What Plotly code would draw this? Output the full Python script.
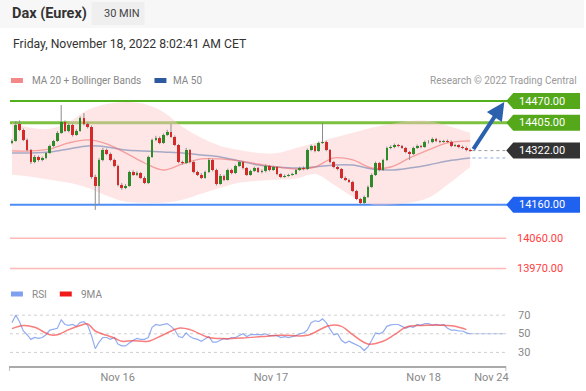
import numpy as np
import plotly.graph_objects as go

W, H = 586, 391
FONT = "Roboto, Arial, sans-serif"

# ---------------- data ----------------
open_ = [14345,14351,14400,14384,14354,14324,14288,14303,14294,14300,
         14315,14336,14351,14375,14407,14381,14398,14369,14381,14419,
         14401,14393,14244,14217,14294,14324,14312,14294,14276,14220,
         14211,14217,14258,14250,14255,14241,14226,14303,14354,14360,
         14345,14369,14378,14363,14339,14288,14285,14324,14288,14258,
         14250,14241,14258,14294,14264,14223,14247,14235,14264,14255,
         14276,14288,14270,14250,14261,14270,14258,14260,14276,14264,
         14273,14252,14244,14247,14250,14252,14264,14270,14267,14324,
         14336,14321,14345,14348,14324,14288,14273,14267,14241,14235,
         14229,14202,14178,14166,14184,14214,14250,14285,14264,14294,
         14330,14333,14339,14336,14330,14318,14312,14330,14336,14333,
         14348,14347,14357,14351,14348,14350,14349,14336,14338,14333,
         14330,14324]
close = [14351,14398,14384,14354,14324,14288,14303,14294,14300,14315,
         14336,14351,14375,14407,14381,14398,14369,14381,14419,14401,
         14393,14244,14217,14294,14324,14312,14294,14276,14220,14211,
         14217,14258,14250,14255,14241,14226,14303,14354,14360,14345,
         14369,14378,14363,14339,14288,14285,14324,14288,14258,14250,
         14241,14258,14294,14264,14223,14247,14235,14264,14255,14276,
         14288,14270,14250,14261,14270,14258,14260,14276,14264,14273,
         14252,14244,14247,14250,14252,14264,14270,14267,14324,14336,
         14321,14345,14348,14324,14288,14273,14267,14241,14235,14229,
         14202,14178,14166,14184,14214,14250,14285,14264,14294,14330,
         14333,14339,14336,14330,14318,14312,14330,14336,14333,14348,
         14347,14357,14351,14348,14350,14349,14336,14338,14333,14330,
         14324,14322]
high = [14356,14410,14412,14388,14358,14327,14309,14307,14304,14318,
        14340,14354,14380,14458,14412,14403,14402,14386,14424,14434,
        14406,14397,14250,14300,14330,14328,14316,14298,14280,14225,
        14222,14262,14263,14260,14258,14245,14307,14358,14366,14364,
        14373,14384,14401,14367,14342,14292,14330,14327,14292,14262,
        14255,14262,14300,14297,14268,14252,14250,14268,14268,14280,
        14292,14291,14273,14265,14274,14273,14266,14281,14279,14277,
        14276,14255,14251,14253,14256,14267,14274,14275,14328,14340,
        14339,14349,14404,14352,14327,14291,14276,14270,14245,14238,
        14232,14205,14181,14188,14218,14254,14289,14288,14298,14334,
        14338,14343,14342,14339,14333,14321,14334,14340,14339,14352,
        14353,14361,14360,14354,14354,14355,14352,14342,14341,14337,
        14334,14328]
low = [14341,14348,14380,14350,14320,14282,14284,14289,14290,14296,
       14312,14332,14348,14372,14377,14376,14364,14366,14378,14397,
       14388,14238,14145,14160,14290,14308,14290,14272,14215,14205,
       14207,14214,14246,14246,14237,14222,14222,14300,14350,14341,
       14342,14365,14360,14335,14284,14280,14282,14284,14254,14246,
       14237,14238,14255,14260,14218,14220,14231,14232,14251,14252,
       14273,14266,14246,14247,14258,14255,14254,14257,14260,14261,
       14248,14240,14241,14244,14247,14249,14261,14263,14264,14320,
       14317,14318,14342,14320,14284,14269,14263,14237,14231,14225,
       14198,14174,14160,14162,14180,14210,14246,14260,14261,14291,
       14326,14329,14332,14327,14314,14294,14309,14327,14329,14330,
       14343,14344,14347,14344,14345,14345,14332,14333,14329,14326,
       14320,14318]

ind_idx = [0,5,10,15,20,25,30,35,40,45,50,55,60,65,70,75,80,85,90,95,100,105,110,115,121]
ma20 = [14321,14321,14327,14345,14354,14342,14315,14285,14264,14282,14297,14297,14291,
        14282,14273,14267,14273,14300,14294,14270,14273,14300,14324,14345,14351]
ma50 = [14315,14315,14318,14327,14336,14333,14324,14321,14318,14315,14309,14303,14291,
        14279,14273,14270,14273,14279,14279,14267,14264,14270,14279,14291,14300]
bb_upper = [14404,14390,14387,14407,14443,14461,14467,14461,14437,14393,14360,14336,14324,
            14315,14315,14330,14345,14360,14375,14390,14401,14410,14410,14396,14375]
bb_lower = [14250,14244,14235,14226,14211,14187,14169,14166,14166,14175,14193,14211,14226,
            14232,14235,14238,14252,14220,14184,14160,14160,14166,14181,14220,14273]

rsi = [62,70,63,53,49,44,46,45,46,49,
       54,55,56,65,60,59,60,58,62,63,
       59,48,34,41,46,46,44,46,39,37,
       37,40,43,45,44,44,46,57,60,59,
       60,61,58,54,47,46,51,47,45,44,
       42,45,47,41,41,43,45,44,46,46,
       48,50,47,49,49,49,49,50,48,48,
       48,46,47,46,47,48,50,51,54,62,
       64,63,66,62,55,49,50,43,40,42,
       40,38,36,32,36,43,51,50,52,58,
       59.5,60,60,58,56,58,57,60,59,61,
       61,59,60,59,60,56,54,54,53,53,
       51,50]
rsi9_idx = [0,3,6,10,12,15,18,20,22,25,27,29,32,36,40,44,47,52,56,61,
            66,71,78,82,84,87,90,94,98,101,104,108,115,117,120]
rsi9 = [55.6,59,57,49,49,54.5,59,60.6,53,48.4,45.5,42,42.6,42,49,56,54.5,46,44.8,45.5,
        47,48.4,48.4,56,59,58,49,39,42,49,57,59,59,58,54.5]

levels = [14470, 14405, 14322, 14160, 14060, 13970]
level_kind = ["res", "res", "last", "sup", "sup2", "sup2"]
rsi_levels = [70, 50, 30]
tick_pos = [27.9, 68.4, 108.7, 126.6]
tick_text = ["Nov 16", "Nov 17", "Nov 18", "Nov 24"]

# ---------------- geometry helpers ----------------
X0_PX, STEP = 12, 3.8
def xi(px):
    return (px - X0_PX) / STEP
def fx(px):
    return px / W
def fy(py):
    return 1 - py / H

N = len(close)
xs = list(range(N))
o = np.array(open_, float); c = np.array(close, float)
body_base = np.minimum(o, c)
body_h = np.maximum(np.abs(c - o), 1.5)
body_col = ["#2f8a2a" if cc >= oo else "#d42a2a" for oo, cc in zip(o, c)]

main_range = [13920.8, 14508.8]
main_dom = [fy(285), fy(88)]
rsi_range = [15.4, 86.3]
rsi_dom = [fy(366), fy(300)]
xr_main = [xi(0), xi(W)]

fig = go.Figure()

fig.add_trace(go.Scatter(x=ind_idx, y=bb_upper, mode="lines", line=dict(width=0, shape="spline"),
                         hoverinfo="skip", showlegend=False, xaxis="x", yaxis="y"))
fig.add_trace(go.Scatter(x=ind_idx, y=bb_lower, mode="lines", line=dict(width=0, shape="spline"),
                         fill="tonexty", fillcolor="rgba(252,200,200,0.45)",
                         hoverinfo="skip", showlegend=False, xaxis="x", yaxis="y"))
fig.add_trace(go.Scatter(x=ind_idx, y=ma50, mode="lines",
                         line=dict(width=1.5, color="rgba(60,95,160,0.45)", shape="spline"),
                         showlegend=False, xaxis="x", yaxis="y"))
fig.add_trace(go.Scatter(x=ind_idx, y=ma20, mode="lines",
                         line=dict(width=1.3, color="rgba(240,110,110,0.6)", shape="spline"),
                         showlegend=False, xaxis="x", yaxis="y"))

fig.add_trace(go.Ohlc(x=xs, open=open_, high=high, low=low, close=close, tickwidth=0,
                      increasing=dict(line=dict(color="#8c8c8c", width=1)),
                      decreasing=dict(line=dict(color="#8c8c8c", width=1)),
                      showlegend=False, xaxis="x3", yaxis="y3"))
fig.add_trace(go.Bar(x=xs, y=body_h, base=body_base, width=0.72,
                     marker=dict(color=body_col, line=dict(width=0)),
                     showlegend=False, xaxis="x4", yaxis="y4"))

fig.add_trace(go.Scatter(x=xs, y=rsi, mode="lines", line=dict(color="rgba(110,145,235,0.75)", width=1.2),
                         showlegend=False, xaxis="x2", yaxis="y2"))
fig.add_trace(go.Scatter(x=rsi9_idx, y=rsi9, mode="lines",
                         line=dict(color="rgba(245,70,70,0.7)", width=1.5, shape="spline"),
                         showlegend=False, xaxis="x2", yaxis="y2"))

shapes = []
annos = []

shapes.append(dict(type="rect", xref="paper", yref="paper", x0=0, x1=1, y0=fy(28), y1=1,
                   fillcolor="#f7f7f7", line=dict(width=0), layer="below"))
shapes.append(dict(type="rect", xref="paper", yref="paper", x0=fx(92), x1=fx(145), y0=fy(25), y1=fy(2),
                   fillcolor="#efefef", line=dict(width=0), layer="below"))
annos.append(dict(text="<b>Dax (Eurex)</b>", x=fx(10), y=fy(14), xref="paper", yref="paper",
                  xanchor="left", yanchor="middle", showarrow=False, font=dict(size=14.5, color="#333", family=FONT)))
annos.append(dict(text="30 MIN", x=fx(102), y=fy(14), xref="paper", yref="paper",
                  xanchor="left", yanchor="middle", showarrow=False, font=dict(size=11, color="#444", family=FONT)))
annos.append(dict(text="Friday, November 18, 2022 8:02:41 AM CET", x=fx(11), y=fy(44), xref="paper", yref="paper",
                  xanchor="left", yanchor="middle", showarrow=False, font=dict(size=12.2, color="#333", family=FONT)))

def swatch(x0, x1, yc, color):
    shapes.append(dict(type="rect", xref="paper", yref="paper", x0=fx(x0), x1=fx(x1),
                       y0=fy(yc + 2.5), y1=fy(yc - 2.5), fillcolor=color, line=dict(width=0)))
def ltext(t, x, yc, anchor="left", color="#888"):
    annos.append(dict(text=t, x=fx(x), y=fy(yc), xref="paper", yref="paper", xanchor=anchor,
                      yanchor="middle", showarrow=False, font=dict(size=10, color=color, family=FONT)))
swatch(11, 23, 80.5, "#f48787"); ltext("MA 20 + Bollinger Bands", 30, 80.5)
swatch(155, 167, 80.5, "#2d5a9e"); ltext("MA 50", 172, 80.5)
ltext("Research © 2022 Trading Central", 581, 80.5, anchor="right", color="#999")
swatch(11, 23, 294, "#7f9ff0"); ltext("RSI", 30, 294)
swatch(60, 72, 294, "#f01a1a"); ltext("9MA", 79, 294)

line_style = {14470: ("#52b01c", 2), 14405: ("#7cc040", 3), 14160: ("#4d8cf5", 2),
              14060: ("#ffb8b8", 1.5), 13970: ("#ffb8b8", 1.5)}
for lv, kind in zip(levels, level_kind):
    if lv in line_style:
        col, wd = line_style[lv]
        xend = xi(510) if kind != "sup2" else xi(508)
        shapes.append(dict(type="line", xref="x", yref="y", x0=xi(10), x1=xend, y0=lv, y1=lv,
                           line=dict(color=col, width=wd), layer="below"))
    label = f"{lv:.2f}"
    if kind == "sup2":
        annos.append(dict(text=label, x=xi(517), y=lv, xref="x", yref="y", xanchor="left", yanchor="middle",
                          showarrow=False, font=dict(size=11, color="#ff4040", family=FONT)))
    else:
        fill = {"res": "#55a819", "last": "#333333", "sup": "#1f62f0"}[kind]
        path = (f"M {xi(508)},0 L {xi(515)},8 L {xi(582)},8 L {xi(582)},-8 L {xi(515)},-8 Z")
        shapes.append(dict(type="path", xref="x", yref="y", ysizemode="pixel", yanchor=lv,
                           path=path, fillcolor=fill, line=dict(width=0)))
        annos.append(dict(text=label, x=xi(519), y=lv, xref="x", yref="y", xanchor="left", yanchor="middle",
                          showarrow=False, font=dict(size=11, color="white", family=FONT)))

shapes.append(dict(type="line", xref="x", yref="y", x0=xi(474), x1=xi(508), y0=close[-1], y1=close[-1],
                   line=dict(color="#9a9a9a", width=1, dash="dot")))
shapes.append(dict(type="line", xref="x", yref="y", x0=xi(474), x1=xi(508), y0=ma50[-1], y1=ma50[-1],
                   line=dict(color="#8fa8e0", width=1, dash="dot")))

annos.append(dict(x=xi(506), y=levels[0] - 3, ax=xi(474), ay=close[-1], xref="x", yref="y",
                  axref="x", ayref="y", text="", showarrow=True, arrowhead=2, arrowsize=0.9,
                  arrowwidth=4, arrowcolor="#2c62ad"))

for lv in rsi_levels:
    shapes.append(dict(type="line", xref="x2", yref="y2", x0=xi(10), x1=xi(508), y0=lv, y1=lv,
                       line=dict(color="#cfcfcf", width=1, dash="dot"), layer="below"))
    annos.append(dict(text=str(lv), x=fx(518), y=lv, xref="paper", yref="y2", xanchor="left",
                      yanchor="middle", showarrow=False, font=dict(size=11, color="#888", family=FONT)))
shapes.append(dict(type="line", xref="x2", yref="y2", x0=xi(471), x1=xi(508), y0=50, y1=50,
                   line=dict(color="#8fa8e8", width=1, dash="dot")))
for px in (9, 508):
    shapes.append(dict(type="line", xref="x2", yref="paper", x0=xi(px), x1=xi(px), y0=fy(366), y1=fy(371),
                       line=dict(color="#aaa", width=1.5)))

ax_hidden = dict(visible=False, showgrid=False, zeroline=False, fixedrange=True)
fig.update_layout(
    width=W, height=H, margin=dict(l=0, r=0, t=0, b=0),
    paper_bgcolor="white", plot_bgcolor="rgba(0,0,0,0)",
    showlegend=False, bargap=0, hovermode=False,
    xaxis=dict(domain=[0, 1], range=xr_main, anchor="y", **ax_hidden, rangeslider=dict(visible=False)),
    yaxis=dict(domain=main_dom, range=main_range, anchor="x", **ax_hidden),
    xaxis3=dict(overlaying="x", range=xr_main, anchor="y3", **ax_hidden, rangeslider=dict(visible=False)),
    yaxis3=dict(overlaying="y", range=main_range, anchor="x3", **ax_hidden),
    xaxis4=dict(overlaying="x", range=xr_main, anchor="y4", **ax_hidden),
    yaxis4=dict(overlaying="y", range=main_range, anchor="x4", **ax_hidden),
    xaxis2=dict(domain=[fx(9), fx(508)], range=[xi(9), xi(508)], anchor="y2",
                showline=True, linecolor="#aaa", linewidth=1.5, showgrid=False, zeroline=False,
                ticks="", tickmode="array", tickvals=tick_pos, ticktext=tick_text,
                tickfont=dict(size=11, color="#888", family=FONT), fixedrange=True),
    yaxis2=dict(domain=rsi_dom, range=rsi_range, anchor="x2", visible=False, fixedrange=True),
    shapes=shapes, annotations=annos,
    font=dict(family=FONT),
)
fig.write_html("out.html", config={"displayModeBar": False, "staticPlot": True},
               post_script="document.body.style.margin='0px';")
